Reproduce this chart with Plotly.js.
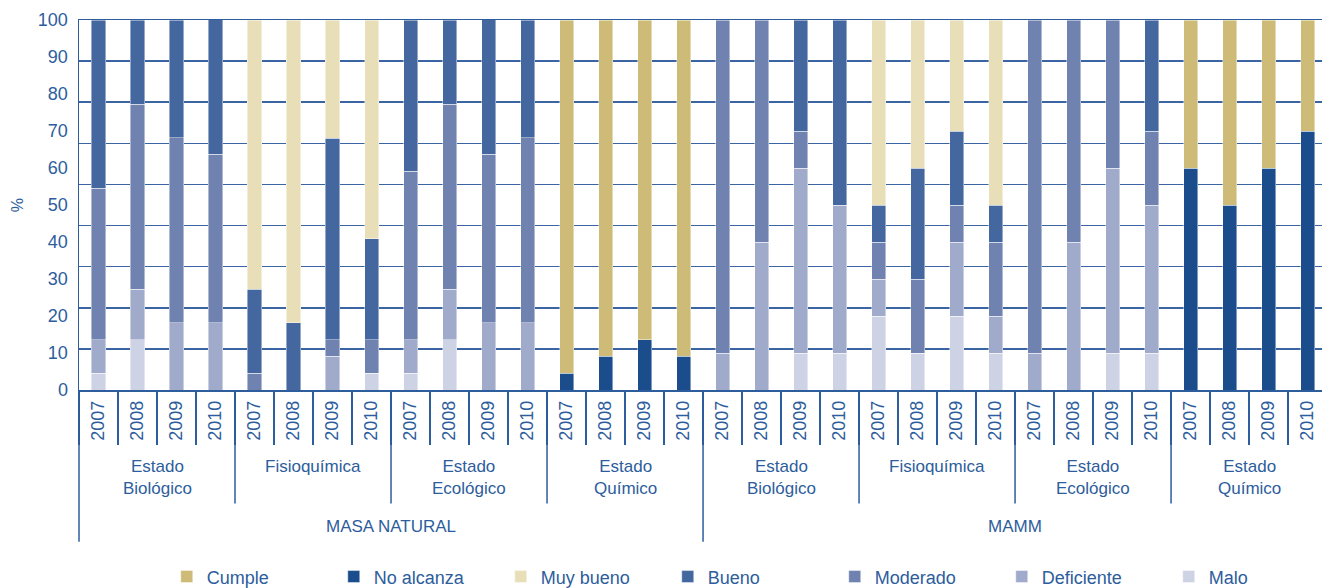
<!DOCTYPE html>
<html>
<head>
<meta charset="utf-8">
<script src="https://cdn.plot.ly/plotly-3.0.1.min.js"></script>
<style>
  html, body { margin: 0; padding: 0; background: #ffffff; }
  #chart { width: 1322px; height: 588px; }
</style>
</head>
<body>
<div id="chart"></div>
<script>
// ---- Data ----
const masas = ['MASA NATURAL', 'MAMM'];
const groups = ['Estado<br>Biológico', 'Fisioquímica', 'Estado<br>Ecológico', 'Estado<br>Químico'];
const years = ['2007', '2008', '2009', '2010'];

// values per category, order: masa -> group -> year (32 bars)
const malo = [
  4.5, 13.6, null, null,   null, null, null, 4.5,   4.5, 13.6, null, null,   null, null, null, null,
  null, null, 10, 10,      20, 10, 20, 10,          null, null, 10, 10,       null, null, null, null
];
const deficiente = [
  9.1, 13.6, 18.2, 18.2,   null, null, 9.1, null,   9.1, 13.6, 18.2, 18.2,   null, null, null, null,
  10, 40, 50, 40,          10, null, 20, 10,        10, 40, 50, 40,           null, null, null, null
];
const moderado = [
  40.9, 50.0, 50.0, 45.5,  4.5, null, 4.5, 9.1,     45.5, 50.0, 45.5, 50.0,   null, null, null, null,
  90, 60, 10, null,        10, 20, 10, 20,          90, 60, 40, 20,           null, null, null, null
];
const bueno = [
  45.5, 22.7, 31.8, 36.4,  22.7, 18.2, 54.5, 27.3,  40.9, 22.7, 36.4, 31.8,   null, null, null, null,
  null, null, 30, 50,      10, 30, 20, 10,          null, null, null, 30,     null, null, null, null
];
const muyBueno = [
  null, null, null, null,  72.7, 81.8, 31.8, 59.1,  null, null, null, null,   null, null, null, null,
  null, null, null, null,  50, 40, 30, 50,          null, null, null, null,   null, null, null, null
];
const noAlcanza = [
  null, null, null, null,  null, null, null, null,  null, null, null, null,   4.5, 9.1, 13.6, 9.1,
  null, null, null, null,  null, null, null, null,  null, null, null, null,   60, 50, 60, 70
];
const cumple = [
  null, null, null, null,  null, null, null, null,  null, null, null, null,   95.5, 90.9, 86.4, 90.9,
  null, null, null, null,  null, null, null, null,  null, null, null, null,   40, 50, 40, 30
];

const yTicks = [0, 10, 20, 30, 40, 50, 60, 70, 80, 90, 100];

// ---- Build category structure ----
const catMasa = [], catGroup = [], catYear = [];
masas.forEach(m => groups.forEach(g => years.forEach(y => {
  catMasa.push(m); catGroup.push(g); catYear.push(y);
})));
const xs = catYear.map((_, i) => i);

const BLUE = '#2d5d9c';
const FONT = 'Liberation Sans, Arial, sans-serif';

const series = [
  {name: 'Malo',       y: malo,       color: '#cdd3e5', rank: 7},
  {name: 'Deficiente', y: deficiente, color: '#a0aacb', rank: 6},
  {name: 'Moderado',   y: moderado,   color: '#7083b0', rank: 5},
  {name: 'Bueno',      y: bueno,      color: '#44679f', rank: 4},
  {name: 'Muy bueno',  y: muyBueno,   color: '#e8dfb9', rank: 3},
  {name: 'No alcanza', y: noAlcanza,  color: '#1b4d8c', rank: 2},
  {name: 'Cumple',     y: cumple,     color: '#cdbb77', rank: 1}
];

const traces = series.map(s => ({
  type: 'bar',
  name: s.name,
  x: xs,
  y: s.y,
  legendrank: s.rank,
  marker: {color: s.color, line: {color: 'rgba(255,255,255,0.55)', width: 0.8}},
  hoverinfo: 'name+y'
}));

// ---- Separators and group labels derived from categories ----
const shapes = [];
const annotations = [];
const lineStyle = {color: BLUE, width: 1.5};
shapes.push({type: 'line', xref: 'paper', yref: 'paper', x0: 0, x1: 0, y0: 0, y1: -0.41, line: lineStyle});
for (let i = 1; i < xs.length; i++) {
  if (catMasa[i] !== catMasa[i - 1]) {
    shapes.push({type: 'line', xref: 'x', yref: 'paper', x0: i - 0.5, x1: i - 0.5, y0: 0, y1: -0.41, line: lineStyle});
  } else if (catGroup[i] !== catGroup[i - 1]) {
    shapes.push({type: 'line', xref: 'x', yref: 'paper', x0: i - 0.5, x1: i - 0.5, y0: 0, y1: -0.307, line: lineStyle});
  }
}
let start = 0;
for (let i = 1; i <= xs.length; i++) {
  if (i === xs.length || catGroup[i] !== catGroup[i - 1] || catMasa[i] !== catMasa[i - 1]) {
    annotations.push({
      xref: 'x', yref: 'paper', x: (start + i - 1) / 2, y: -0.175, yanchor: 'top', xanchor: 'center',
      text: catGroup[start], showarrow: false, font: {family: FONT, size: 17, color: BLUE}
    });
    start = i;
  }
}
start = 0;
for (let i = 1; i <= xs.length; i++) {
  if (i === xs.length || catMasa[i] !== catMasa[i - 1]) {
    annotations.push({
      xref: 'x', yref: 'paper', x: (start + i - 1) / 2, y: -0.368, yanchor: 'middle', xanchor: 'center',
      text: catMasa[start], showarrow: false, font: {family: FONT, size: 17, color: BLUE}
    });
    start = i;
  }
}

const layout = {
  width: 1322,
  height: 588,
  margin: {l: 79, r: 0, t: 20, b: 198, autoexpand: false},
  paper_bgcolor: '#ffffff',
  plot_bgcolor: '#ffffff',
  barmode: 'stack',
  bargap: 0.64,
  showlegend: true,
  font: {family: FONT, size: 18, color: BLUE},
  xaxis: {
    range: [-0.5, 31.37],
    tickmode: 'array',
    tickvals: xs,
    ticktext: catYear,
    tickangle: -90,
    ticks: '',
    ticklabelstandoff: 2,
    tickfont: {family: FONT, size: 18, color: BLUE},
    showgrid: false,
    zeroline: false,
    showline: true,
    mirror: true,
    linecolor: BLUE,
    linewidth: 1.5,
    minor: {tickmode: 'linear', tick0: 0.5, dtick: 1, ticks: 'outside', ticklen: 53, tickwidth: 1.5, tickcolor: BLUE, showgrid: false},
    fixedrange: true
  },
  yaxis: {
    range: [0, 100],
    tickmode: 'array',
    tickvals: yTicks,
    ticks: '',
    ticklabelstandoff: 6,
    tickfont: {family: FONT, size: 18, color: BLUE},
    showgrid: false,
    zeroline: false,
    showline: true,
    linecolor: BLUE,
    linewidth: 1.5,
    minor: {tickmode: 'linear', tick0: 0, dtick: 100 / 9, ticks: '', showgrid: true, gridcolor: '#3a65a2', gridwidth: 1.5},
    title: {text: '%', font: {family: FONT, size: 16, color: BLUE}, standoff: 10},
    fixedrange: true
  },
  legend: {
    orientation: 'h',
    x: 0.0706, xanchor: 'left',
    y: -0.505, yanchor: 'middle',
    font: {family: FONT, size: 18, color: BLUE},
    traceorder: 'normal',
    entrywidth: 122,
    entrywidthmode: 'pixels',
    itemclick: false
  },
  shapes: shapes,
  annotations: annotations
};

Plotly.newPlot('chart', traces, layout, {displayModeBar: false, staticPlot: true});
</script>
</body>
</html>
